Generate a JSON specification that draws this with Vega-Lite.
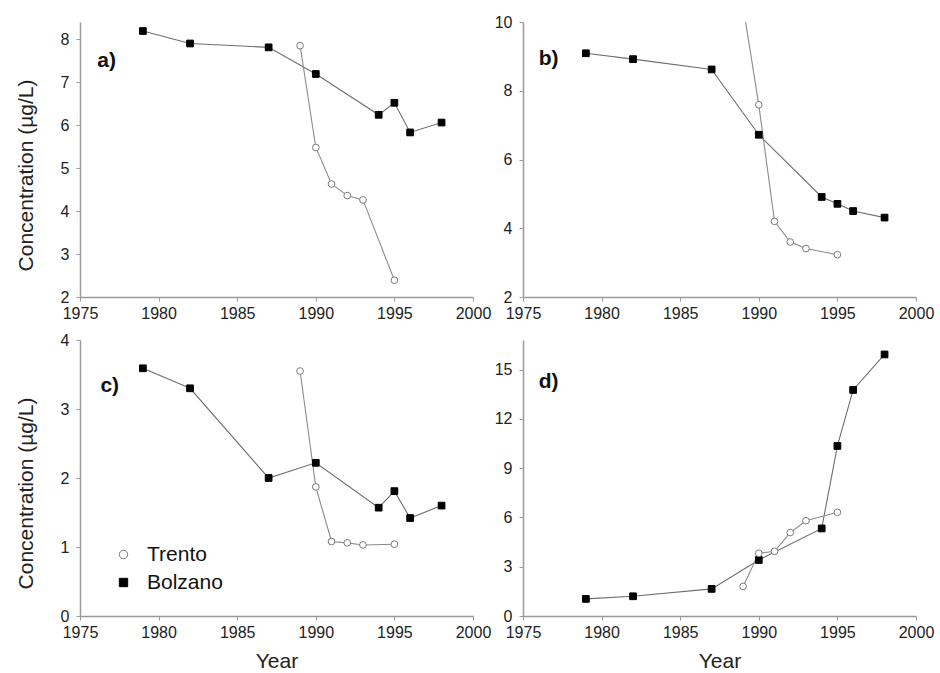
{
  "$schema": "https://vega.github.io/schema/vega-lite/v6.json",
  "background": "white",
  "padding": {"left": 15, "top": 14, "right": 5, "bottom": 0},
  "bounds": "flush",
  "columns": 2,
  "spacing": {"row": 43, "column": 50},
  "resolve": {
    "scale": {"color": "independent", "shape": "independent", "fill": "independent", "stroke": "independent"}
  },
  "datasets": {
    "a": [
      {"site": "Bolzano", "year": 1979, "value": 8.19},
      {"site": "Bolzano", "year": 1982, "value": 7.9},
      {"site": "Bolzano", "year": 1987, "value": 7.81},
      {"site": "Bolzano", "year": 1990, "value": 7.19},
      {"site": "Bolzano", "year": 1994, "value": 6.24},
      {"site": "Bolzano", "year": 1995, "value": 6.52},
      {"site": "Bolzano", "year": 1996, "value": 5.83},
      {"site": "Bolzano", "year": 1998, "value": 6.06},
      {"site": "Trento", "year": 1989, "value": 7.85},
      {"site": "Trento", "year": 1990, "value": 5.48},
      {"site": "Trento", "year": 1991, "value": 4.63},
      {"site": "Trento", "year": 1992, "value": 4.36},
      {"site": "Trento", "year": 1993, "value": 4.26},
      {"site": "Trento", "year": 1995, "value": 2.39}
    ],
    "b": [
      {"site": "Bolzano", "year": 1979, "value": 9.09},
      {"site": "Bolzano", "year": 1982, "value": 8.92},
      {"site": "Bolzano", "year": 1987, "value": 8.62},
      {"site": "Bolzano", "year": 1990, "value": 6.72},
      {"site": "Bolzano", "year": 1994, "value": 4.91},
      {"site": "Bolzano", "year": 1995, "value": 4.71},
      {"site": "Bolzano", "year": 1996, "value": 4.5},
      {"site": "Bolzano", "year": 1998, "value": 4.31},
      {"site": "Trento", "year": 1989, "value": 10.46},
      {"site": "Trento", "year": 1990, "value": 7.59},
      {"site": "Trento", "year": 1991, "value": 4.2},
      {"site": "Trento", "year": 1992, "value": 3.6},
      {"site": "Trento", "year": 1993, "value": 3.41},
      {"site": "Trento", "year": 1995, "value": 3.23}
    ],
    "c": [
      {"site": "Bolzano", "year": 1979, "value": 3.59},
      {"site": "Bolzano", "year": 1982, "value": 3.3},
      {"site": "Bolzano", "year": 1987, "value": 2.0},
      {"site": "Bolzano", "year": 1990, "value": 2.22},
      {"site": "Bolzano", "year": 1994, "value": 1.57},
      {"site": "Bolzano", "year": 1995, "value": 1.81},
      {"site": "Bolzano", "year": 1996, "value": 1.42},
      {"site": "Bolzano", "year": 1998, "value": 1.6},
      {"site": "Trento", "year": 1989, "value": 3.55},
      {"site": "Trento", "year": 1990, "value": 1.87},
      {"site": "Trento", "year": 1991, "value": 1.08},
      {"site": "Trento", "year": 1992, "value": 1.06},
      {"site": "Trento", "year": 1993, "value": 1.03},
      {"site": "Trento", "year": 1995, "value": 1.04}
    ],
    "d": [
      {"site": "Bolzano", "year": 1979, "value": 1.04},
      {"site": "Bolzano", "year": 1982, "value": 1.2},
      {"site": "Bolzano", "year": 1987, "value": 1.65},
      {"site": "Bolzano", "year": 1990, "value": 3.41},
      {"site": "Bolzano", "year": 1994, "value": 5.33},
      {"site": "Bolzano", "year": 1995, "value": 10.35},
      {"site": "Bolzano", "year": 1996, "value": 13.76},
      {"site": "Bolzano", "year": 1998, "value": 15.92},
      {"site": "Trento", "year": 1989, "value": 1.8},
      {"site": "Trento", "year": 1990, "value": 3.82},
      {"site": "Trento", "year": 1991, "value": 3.94},
      {"site": "Trento", "year": 1992, "value": 5.08},
      {"site": "Trento", "year": 1993, "value": 5.8},
      {"site": "Trento", "year": 1995, "value": 6.31}
    ],
    "labels": [
      {"panel": "a", "label": "a)", "year": 1976.1, "value": 7.5},
      {"panel": "b", "label": "b)", "year": 1976.0, "value": 8.92},
      {"panel": "c", "label": "c)", "year": 1976.3, "value": 3.34},
      {"panel": "d", "label": "d)", "year": 1976.0, "value": 14.27}
    ]
  },
  "config": {
    "font": "Liberation Sans",
    "view": {"stroke": null},
    "axis": {
      "grid": false,
      "domainColor": "#9a9a9a",
      "domainWidth": 1.5,
      "tickColor": "#9a9a9a",
      "tickSize": 4,
      "labelFontSize": 16,
      "labelColor": "#222222",
      "labelFlush": false,
      "titleFontSize": 21,
      "titleFontWeight": "normal",
      "titleColor": "#222222"
    },
    "axisX": {"labelPadding": 4, "titlePadding": 10},
    "axisY": {"labelPadding": 7}
  },
  "concat": [
    {
      "width": 393, "height": 275,
      "layer": [
        {
          "data": {"name": "a"},
          "mark": {"type": "line", "strokeWidth": 1.1, "clip": true},
          "encoding": {
            "x": {"field": "year", "type": "quantitative", "scale": {"domain": [1975, 2000], "nice": false, "zero": false}, "axis": {"title": null, "values": [1975, 1980, 1985, 1990, 1995, 2000], "format": "d"}},
            "y": {"field": "value", "type": "quantitative", "scale": {"domain": [2, 8.4], "nice": false, "zero": false}, "axis": {"title": "Concentration (µg/L)", "values": [2, 3, 4, 5, 6, 7, 8], "format": "d", "titleX": -48, "titleY": 153, "titleBaseline": "alphabetic", "titleAngle": 270}},
            "color": {"field": "site", "type": "nominal", "scale": {"domain": ["Bolzano", "Trento"], "range": ["#6e6e6e", "#8c8c8c"]}, "legend": null}
          }
        },
        {
          "data": {"name": "a"},
          "mark": {"type": "point", "filled": true, "size": 45, "strokeWidth": 1, "opacity": 1, "clip": true},
          "encoding": {
            "x": {"field": "year", "type": "quantitative"},
            "y": {"field": "value", "type": "quantitative"},
            "shape": {"field": "site", "type": "nominal", "scale": {"domain": ["Trento", "Bolzano"], "range": ["circle", "square"]}, "legend": null},
            "fill": {"field": "site", "type": "nominal", "scale": {"domain": ["Trento", "Bolzano"], "range": ["white", "black"]}, "legend": null},
            "stroke": {"field": "site", "type": "nominal", "scale": {"domain": ["Trento", "Bolzano"], "range": ["#7a7a7a", "black"]}, "legend": null}
          }
        },
        {
          "data": {"name": "labels"},
          "transform": [{"filter": "datum.panel == 'a'"}],
          "mark": {"type": "text", "align": "left", "baseline": "middle", "fontSize": 21, "fontWeight": "bold", "color": "#111111"},
          "encoding": {
            "x": {"field": "year", "type": "quantitative"},
            "y": {"field": "value", "type": "quantitative"},
            "text": {"field": "label"}
          }
        }
      ]
    },
    {
      "width": 393, "height": 275,
      "layer": [
        {
          "data": {"name": "b"},
          "mark": {"type": "line", "strokeWidth": 1.1, "clip": true},
          "encoding": {
            "x": {"field": "year", "type": "quantitative", "scale": {"domain": [1975, 2000], "nice": false, "zero": false}, "axis": {"title": null, "values": [1975, 1980, 1985, 1990, 1995, 2000], "format": "d"}},
            "y": {"field": "value", "type": "quantitative", "scale": {"domain": [2, 10], "nice": false, "zero": false}, "axis": {"title": null, "values": [2, 4, 6, 8, 10], "format": "d"}},
            "color": {"field": "site", "type": "nominal", "scale": {"domain": ["Bolzano", "Trento"], "range": ["#6e6e6e", "#8c8c8c"]}, "legend": null}
          }
        },
        {
          "data": {"name": "b"},
          "mark": {"type": "point", "filled": true, "size": 45, "strokeWidth": 1, "opacity": 1, "clip": true},
          "encoding": {
            "x": {"field": "year", "type": "quantitative"},
            "y": {"field": "value", "type": "quantitative"},
            "shape": {"field": "site", "type": "nominal", "scale": {"domain": ["Trento", "Bolzano"], "range": ["circle", "square"]}, "legend": null},
            "fill": {"field": "site", "type": "nominal", "scale": {"domain": ["Trento", "Bolzano"], "range": ["white", "black"]}, "legend": null},
            "stroke": {"field": "site", "type": "nominal", "scale": {"domain": ["Trento", "Bolzano"], "range": ["#7a7a7a", "black"]}, "legend": null}
          }
        },
        {
          "data": {"name": "labels"},
          "transform": [{"filter": "datum.panel == 'b'"}],
          "mark": {"type": "text", "align": "left", "baseline": "middle", "fontSize": 21, "fontWeight": "bold", "color": "#111111"},
          "encoding": {
            "x": {"field": "year", "type": "quantitative"},
            "y": {"field": "value", "type": "quantitative"},
            "text": {"field": "label"}
          }
        }
      ]
    },
    {
      "width": 393, "height": 276,
      "layer": [
        {
          "data": {"name": "c"},
          "mark": {"type": "line", "strokeWidth": 1.1, "clip": true},
          "encoding": {
            "x": {"field": "year", "type": "quantitative", "scale": {"domain": [1975, 2000], "nice": false, "zero": false}, "axis": {"title": "Year", "values": [1975, 1980, 1985, 1990, 1995, 2000], "format": "d"}},
            "y": {"field": "value", "type": "quantitative", "scale": {"domain": [0, 4], "nice": false, "zero": false}, "axis": {"title": "Concentration (µg/L)", "values": [0, 1, 2, 3, 4], "format": "d", "titleX": -48, "titleY": 153, "titleBaseline": "alphabetic", "titleAngle": 270}},
            "color": {"field": "site", "type": "nominal", "scale": {"domain": ["Bolzano", "Trento"], "range": ["#6e6e6e", "#8c8c8c"]}, "legend": null}
          }
        },
        {
          "data": {"name": "c"},
          "mark": {"type": "point", "filled": true, "size": 45, "strokeWidth": 1, "opacity": 1, "clip": true},
          "encoding": {
            "x": {"field": "year", "type": "quantitative"},
            "y": {"field": "value", "type": "quantitative"},
            "shape": {"field": "site", "type": "nominal", "scale": {"domain": ["Trento", "Bolzano"], "range": ["circle", "square"]}, "legend": {"orient": "none", "legendX": 33, "legendY": 204, "title": null, "labelFontSize": 21, "labelColor": "#111111", "symbolSize": 70, "rowPadding": 6, "labelOffset": 13, "symbolStrokeWidth": 1, "labelExpr": "datum.label == 'Bolzano' ? '\u00a0Bolzano' : datum.label"}},
            "fill": {"field": "site", "type": "nominal", "scale": {"domain": ["Trento", "Bolzano"], "range": ["white", "black"]}, "legend": {"orient": "none", "legendX": 33, "legendY": 204, "title": null, "labelFontSize": 21, "labelColor": "#111111", "symbolSize": 70, "rowPadding": 6, "labelOffset": 13, "symbolStrokeWidth": 1, "labelExpr": "datum.label == 'Bolzano' ? '\u00a0Bolzano' : datum.label"}},
            "stroke": {"field": "site", "type": "nominal", "scale": {"domain": ["Trento", "Bolzano"], "range": ["#7a7a7a", "black"]}, "legend": {"orient": "none", "legendX": 33, "legendY": 204, "title": null, "labelFontSize": 21, "labelColor": "#111111", "symbolSize": 70, "rowPadding": 6, "labelOffset": 13, "symbolStrokeWidth": 1, "labelExpr": "datum.label == 'Bolzano' ? '\u00a0Bolzano' : datum.label"}}
          }
        },
        {
          "data": {"name": "labels"},
          "transform": [{"filter": "datum.panel == 'c'"}],
          "mark": {"type": "text", "align": "left", "baseline": "middle", "fontSize": 21, "fontWeight": "bold", "color": "#111111"},
          "encoding": {
            "x": {"field": "year", "type": "quantitative"},
            "y": {"field": "value", "type": "quantitative"},
            "text": {"field": "label"}
          }
        }
      ]
    },
    {
      "width": 393, "height": 276,
      "layer": [
        {
          "data": {"name": "d"},
          "mark": {"type": "line", "strokeWidth": 1.1, "clip": true},
          "encoding": {
            "x": {"field": "year", "type": "quantitative", "scale": {"domain": [1975, 2000], "nice": false, "zero": false}, "axis": {"title": "Year", "values": [1975, 1980, 1985, 1990, 1995, 2000], "format": "d"}},
            "y": {"field": "value", "type": "quantitative", "scale": {"domain": [0, 16.8], "nice": false, "zero": false}, "axis": {"title": null, "values": [0, 3, 6, 9, 12, 15], "format": "d"}},
            "color": {"field": "site", "type": "nominal", "scale": {"domain": ["Bolzano", "Trento"], "range": ["#6e6e6e", "#8c8c8c"]}, "legend": null}
          }
        },
        {
          "data": {"name": "d"},
          "mark": {"type": "point", "filled": true, "size": 45, "strokeWidth": 1, "opacity": 1, "clip": true},
          "encoding": {
            "x": {"field": "year", "type": "quantitative"},
            "y": {"field": "value", "type": "quantitative"},
            "shape": {"field": "site", "type": "nominal", "scale": {"domain": ["Trento", "Bolzano"], "range": ["circle", "square"]}, "legend": null},
            "fill": {"field": "site", "type": "nominal", "scale": {"domain": ["Trento", "Bolzano"], "range": ["white", "black"]}, "legend": null},
            "stroke": {"field": "site", "type": "nominal", "scale": {"domain": ["Trento", "Bolzano"], "range": ["#7a7a7a", "black"]}, "legend": null}
          }
        },
        {
          "data": {"name": "labels"},
          "transform": [{"filter": "datum.panel == 'd'"}],
          "mark": {"type": "text", "align": "left", "baseline": "middle", "fontSize": 21, "fontWeight": "bold", "color": "#111111"},
          "encoding": {
            "x": {"field": "year", "type": "quantitative"},
            "y": {"field": "value", "type": "quantitative"},
            "text": {"field": "label"}
          }
        }
      ]
    }
  ]
}
